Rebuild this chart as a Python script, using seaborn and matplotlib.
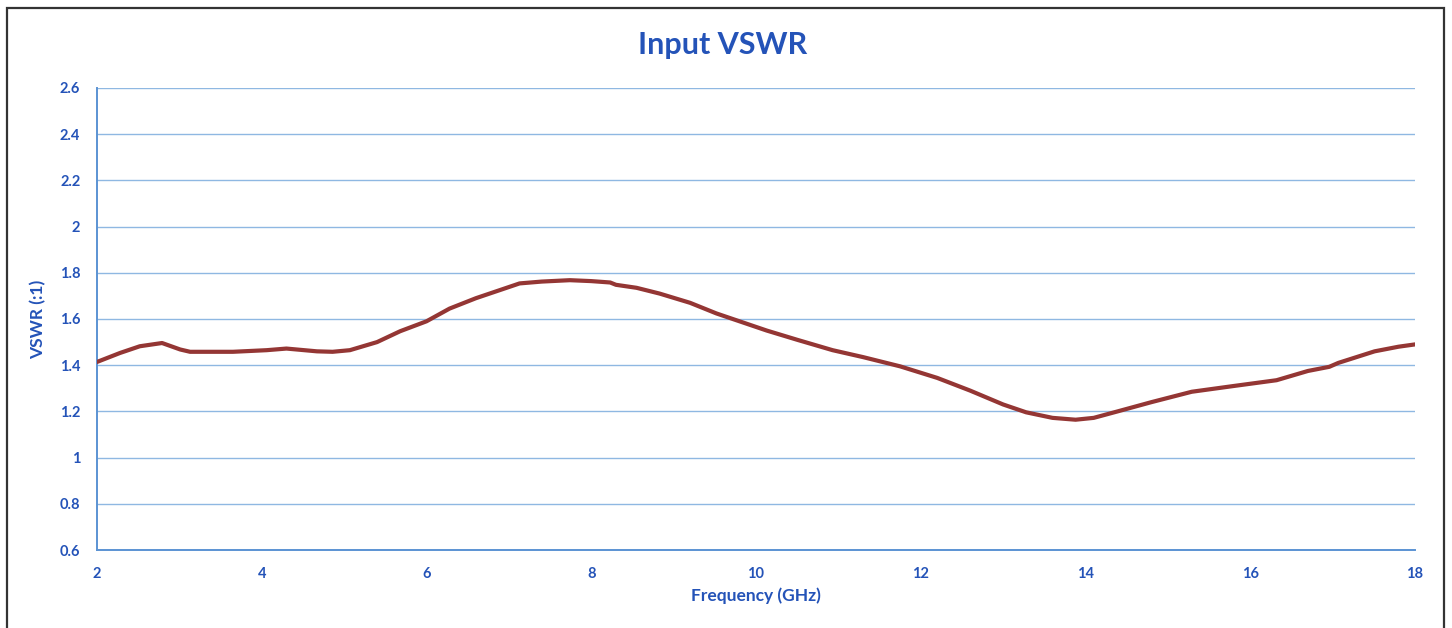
import matplotlib
matplotlib.use("Agg")
import matplotlib.pyplot as plt
import numpy as np
import pandas as pd
import seaborn as sns
from matplotlib.patches import Rectangle

freq_ghz = [2.0, 2.28, 2.52, 2.79, 2.9, 3.01, 3.13, 3.4, 3.65, 4.06, 4.3, 4.67,
            4.86, 5.07, 5.4, 5.68, 6.0, 6.28, 6.6, 6.89, 7.13, 7.4, 7.74, 8.0,
            8.23, 8.3, 8.55, 8.83, 9.2, 9.52, 9.8, 10.13, 10.5, 10.93, 11.3,
            11.75, 12.2, 12.6, 13.0, 13.28, 13.6, 13.88, 14.1, 14.39, 14.8,
            15.29, 15.8, 16.32, 16.7, 16.96, 17.07, 17.51, 17.8, 18.0]
vswr = [1.414, 1.453, 1.482, 1.496, 1.482, 1.468, 1.458, 1.458, 1.458, 1.465,
        1.472, 1.46, 1.458, 1.465, 1.50, 1.547, 1.59, 1.645, 1.69, 1.725,
        1.754, 1.762, 1.768, 1.764, 1.758, 1.748, 1.735, 1.71, 1.67, 1.624,
        1.59, 1.55, 1.51, 1.465, 1.435, 1.395, 1.345, 1.29, 1.23, 1.196,
        1.172, 1.164, 1.172, 1.20, 1.24, 1.285, 1.31, 1.335, 1.375, 1.393,
        1.41, 1.46, 1.48, 1.49]

y_ticks = [0.6, 0.8, 1.0, 1.2, 1.4, 1.6, 1.8, 2.0, 2.2, 2.4, 2.6]
y_tick_labels = ["0.6", "0.8", "1", "1.2", "1.4", "1.6", "1.8", "2", "2.2", "2.4", "2.6"]
x_ticks = [2, 4, 6, 8, 10, 12, 14, 16, 18]

BLUE_TEXT = "#2453b8"
GRID = "#8fb8e2"
AXIS = "#5b93d3"
LINE = "#943634"

sns.set_style("white")
plt.rcParams["font.family"] = ["Lato", "DejaVu Sans"]

df = pd.DataFrame({"freq": freq_ghz, "vswr": vswr})

fig = plt.figure(figsize=(14.52, 6.28), dpi=100)
ax = fig.add_axes([0.0668, 0.1242, 0.9077, 0.7357])

for yv in y_ticks[1:]:
    ax.axhline(yv, color=GRID, lw=1.0, zorder=1)

sns.lineplot(data=df, x="freq", y="vswr", ax=ax, color=LINE, lw=3.0, zorder=3)

ax.set_xlim(2, 18)
ax.set_ylim(0.6, 2.6)
ax.set_xticks(x_ticks)
ax.set_xticklabels([str(v) for v in x_ticks])
ax.set_yticks(y_ticks)
ax.set_yticklabels(y_tick_labels)
ax.tick_params(axis="both", length=0, labelsize=10.5, labelcolor=BLUE_TEXT, pad=12)
for lbl in ax.get_xticklabels() + ax.get_yticklabels():
    lbl.set_fontweight("bold")

for side in ["top", "right"]:
    ax.spines[side].set_visible(False)
for side in ["left", "bottom"]:
    ax.spines[side].set_color(AXIS)
    ax.spines[side].set_linewidth(1.4)

ax.set_xlabel("Frequency (GHz)", fontsize=12.5, fontweight="bold", color=BLUE_TEXT, labelpad=5)
ax.set_ylabel("VSWR (:1)", fontsize=12.5, fontweight="bold", color=BLUE_TEXT, labelpad=10)
fig.text(0.498, 0.928, "Input VSWR", ha="center", va="center",
         fontsize=22, fontweight="bold", color=BLUE_TEXT)

# scanned page border
fig.patches.append(Rectangle((7 / 1452, -0.02), (1444 - 7) / 1452, 1.02 - 8 / 628,
                             transform=fig.transFigure, fill=False,
                             edgecolor="#333333", lw=1.6))

fig.savefig("out.png", dpi=100)
